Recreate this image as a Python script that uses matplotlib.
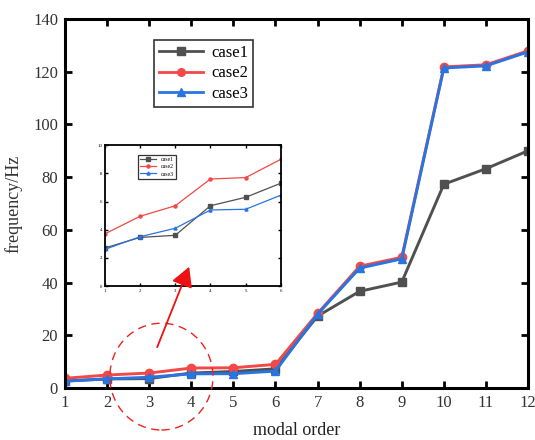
import matplotlib
matplotlib.use("Agg")
import matplotlib.pyplot as plt
from matplotlib.patches import Ellipse, ConnectionPatch

# -----------------------------
# DATA
# -----------------------------
modes = [1, 2, 3, 4, 5, 6, 7, 8, 9, 10, 11, 12]
case1 = [2.7, 3.45, 3.6, 5.7, 6.3, 7.3, 27.3, 36.7, 40.2, 77.3, 83.2, 90.0]
case2 = [3.7, 4.95, 5.7, 7.6, 7.7, 9.0, 28.3, 46.2, 49.6, 121.8, 122.6, 127.9]
case3 = [2.6, 3.5, 4.1, 5.4, 5.45, 6.45, 28.0, 45.5, 49.0, 121.4, 122.2, 127.5]
labels = ["case1", "case2", "case3"]

x_ticks = modes
y_ticks = [0, 20, 40, 60, 80, 100, 120, 140]
inset_modes = modes[:6]
inset_yticks = [0, 2, 4, 6, 8, 10]

colors = ["#505050", "#f24848", "#2874e0"]
markers = ["s", "o", "^"]

plt.rcParams["font.family"] = ["Liberation Serif", "DejaVu Serif"]

fig = plt.figure(figsize=(5.35, 4.40), dpi=100)
ax = fig.add_axes([0.1215, 0.118, 0.8655, 0.839])

for vals, c, m, lab in zip([case1, case2, case3], colors, markers, labels):
    ax.plot(modes, vals, color=c, marker=m, lw=2.1, ms=6, label=lab)

ax.set_xlim(1, 12)
ax.set_ylim(0, 140)
ax.set_xticks(x_ticks)
ax.set_yticks(y_ticks)
ax.tick_params(direction="in", top=True, right=True, width=2, length=5,
               labelsize=12, colors="black", labelcolor="#333333", pad=5)
for s in ax.spines.values():
    s.set_linewidth(2.2)
ax.set_xlabel("modal order", fontsize=13, labelpad=8, color="#222222")
ax.set_ylabel("frequency/Hz", fontsize=13, labelpad=8, color="#333333")

leg = ax.legend(loc="upper left", bbox_to_anchor=(0.175, 0.965), fontsize=12,
                frameon=True, fancybox=False, edgecolor="black",
                handlelength=2.6, borderpad=0.3, labelspacing=0.25,
                handletextpad=0.5)
leg.get_frame().set_linewidth(1.2)
for h in leg.legend_handles:
    h.set_markersize(5.5)
    h.set_linewidth(2)

# dashed circle round the low modes
circ = Ellipse((3.29, 4.35), width=2.45, height=40.5, fill=False,
               edgecolor="#ee2222", lw=1.0, ls=(0, (6, 4)), clip_on=False, zorder=4)
ax.add_patch(circ)

# -----------------------------
# INSET (zoom on modes 1-6)
# -----------------------------
axin = fig.add_axes([0.196, 0.35, 0.329, 0.32])
for vals, c, m, lab in zip([case1, case2, case3], colors, markers, labels):
    axin.plot(inset_modes, vals[:6], color=c, marker=m, lw=0.9, ms=2.2, label=lab)
axin.set_xlim(1, 6)
axin.set_ylim(0, 10)
axin.set_xticks(inset_modes)
axin.set_yticks(inset_yticks)
axin.tick_params(direction="in", top=True, right=True, width=1, length=2,
                 labelsize=3.5, pad=2)
for s in axin.spines.values():
    s.set_linewidth(1.3)
lin = axin.legend(loc="upper left", bbox_to_anchor=(0.17, 0.95), fontsize=4.2,
                  frameon=True, fancybox=False, edgecolor="black",
                  handlelength=2.8, borderpad=0.35, labelspacing=0.35)
lin.get_frame().set_linewidth(0.9)

# arrow from circle to inset
arrow = ConnectionPatch(xyA=(3.19, 15.5), coordsA=ax.transData,
                        xyB=(3.95, 46.0), coordsB=ax.transData,
                        arrowstyle="-|>,head_length=1.0,head_width=0.55",
                        color="#ee1111", lw=1.3, mutation_scale=12, zorder=6)
fig.add_artist(arrow)

fig.savefig("out.png", dpi=100)
